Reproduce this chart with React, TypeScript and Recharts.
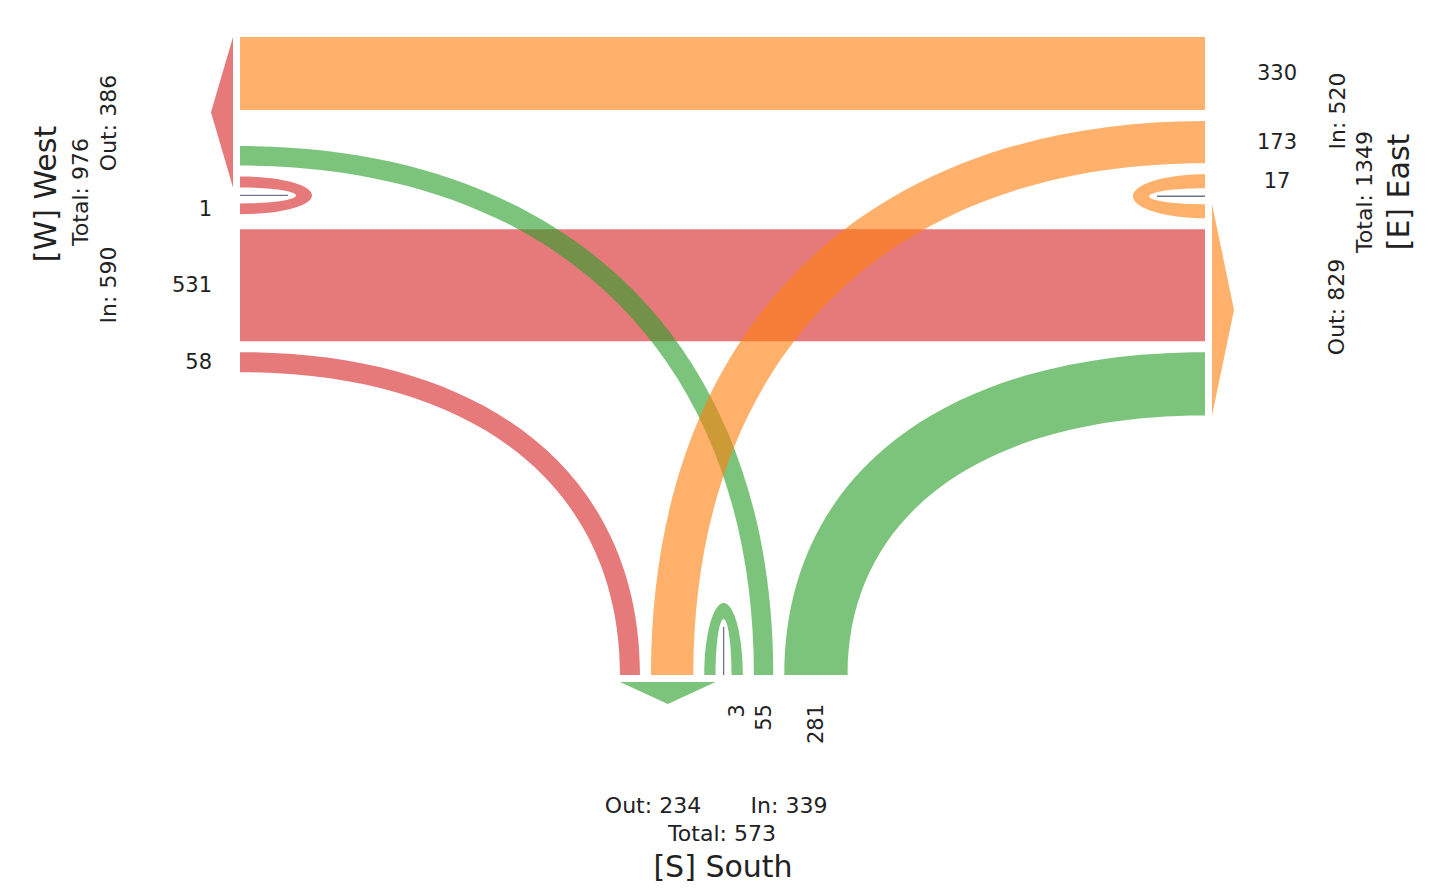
import React from "react";
import { ScatterChart, XAxis, YAxis, Scatter } from "recharts";

const WIDTH = 1431;
const HEIGHT = 888;

// nodes
const nodeCodes = ["W", "E", "S"];
const nodeNames = ["West", "East", "South"];

// flows, coloured by destination node
const flowFrom = ["W", "W", "W", "E", "E", "E", "S", "S", "S"];
const flowTo = ["E", "S", "W", "W", "S", "E", "W", "E", "S"];
const flowValues = [330, 55, 1, 531, 281, 17, 58, 173, 3];

const COLORS: Record<string, string> = { W: "#d62728", E: "#ff7f0e", S: "#2ca02c" };
const ALPHA = 0.62;
const FONT = "'DejaVu Sans', sans-serif";
const TEXT = "#222";

type Pt = [number, number];

// node edges: where flows attach, and the direction pointing into the diagram
const frames: Record<string, { pos: (s: number) => Pt; n: Pt }> = {
  W: { pos: (s) => [240, s], n: [1, 0] },
  E: { pos: (s) => [1205, s], n: [-1, 0] },
  S: { pos: (s) => [s, 675], n: [0, -1] },
};

const GAP = 11;
const LOOP_GAP = 16;
const LOOP_DEPTH = 72;
const K_ELL = 0.5523; // loops
const K_FLOW = 0.62; // curved flows, a bit boxier than an ellipse
const thick = (v: number, loop = false) => 8.7 + 0.1945 * v + (loop ? 2 : 0);

const idx = (a: string, b: string) => flowFrom.findIndex((f, i) => f === a && flowTo[i] === b);
const key = (a: string, b: string, side: "src" | "dst") => `${idx(a, b)}:${side}`;

// ---- layout ----
const segs: Record<string, [number, number]> = {};
function stack(start: number, seq: (string | number)[], dir = 1) {
  let p = start;
  for (const it of seq) {
    if (typeof it === "number") {
      p += dir * it;
      continue;
    }
    const i = +it.split(":")[0];
    const q = p + dir * thick(flowValues[i], flowFrom[i] === flowTo[i]);
    segs[it] = [Math.min(p, q), Math.max(p, q)];
    p = q;
  }
  return p;
}

stack(37, [
  key("W", "E", "dst"), GAP,
  key("S", "E", "dst"), GAP,
  key("E", "E", "dst"), LOOP_GAP,
  key("E", "E", "src"), GAP,
  key("E", "W", "src"), GAP,
  key("E", "S", "src"),
]);
segs[key("W", "E", "src")] = segs[key("W", "E", "dst")];
segs[key("E", "W", "dst")] = segs[key("E", "W", "src")];
stack(segs[key("E", "W", "dst")][1], [GAP, key("S", "W", "dst")]);
stack(segs[key("E", "W", "dst")][0], [
  GAP + 4, key("W", "W", "dst"),
  LOOP_GAP, key("W", "W", "src"),
  GAP, key("W", "S", "src"),
], -1);
stack(620, [
  key("S", "W", "src"), GAP,
  key("S", "E", "src"), GAP,
  key("S", "S", "src"), LOOP_GAP,
  key("S", "S", "dst"), GAP,
  key("W", "S", "dst"), GAP,
  key("E", "S", "dst"),
]);

// ---- geometry helpers ----
const add = (a: Pt, b: Pt, s = 1): Pt => [a[0] + b[0] * s, a[1] + b[1] * s];
const sub = (a: Pt, b: Pt): Pt => [a[0] - b[0], a[1] - b[1]];
const dot = (a: Pt, b: Pt) => a[0] * b[0] + a[1] * b[1];
const f = (p: Pt) => `${p[0].toFixed(1)},${p[1].toFixed(1)}`;

function endPoints(node: string, k: string, travel: Pt): [Pt, Pt] {
  const fr = frames[node];
  const [a, b] = segs[k];
  const pa = fr.pos(a);
  const pb = fr.pos(b);
  const left: Pt = [travel[1], -travel[0]];
  return dot(pa, left) >= dot(pb, left) ? [pa, pb] : [pb, pa];
}

function ribbonPath(i: number) {
  const s = flowFrom[i];
  const t = flowTo[i];
  const ns = frames[s].n;
  const nt = frames[t].n;
  const [L0, R0] = endPoints(s, `${i}:src`, ns);
  const [L1, R1] = endPoints(t, `${i}:dst`, [-nt[0], -nt[1]]);
  const ctrl = (p0: Pt, p1: Pt): [Pt, Pt] => [
    add(p0, ns, K_FLOW * Math.abs(dot(sub(p1, p0), ns))),
    add(p1, nt, K_FLOW * Math.abs(dot(sub(p0, p1), nt))),
  ];
  const [a1, a2] = ctrl(L0, L1);
  const [b2, b1] = ctrl(R0, R1);
  return `M${f(L0)} C${f(a1)} ${f(a2)} ${f(L1)} L${f(R1)} C${f(b1)} ${f(b2)} ${f(R0)} Z`;
}

function halfEllipse(A: Pt, B: Pt, n: Pt, D: number) {
  const C: Pt = [(A[0] + B[0]) / 2, (A[1] + B[1]) / 2];
  const T = add(C, n, D);
  return `C${f(add(A, n, D * K_ELL))} ${f(add(T, sub(A, C), K_ELL))} ${f(T)} C${f(add(T, sub(B, C), K_ELL))} ${f(add(B, n, D * K_ELL))} ${f(B)}`;
}

function loopGeom(i: number) {
  const fr = frames[flowFrom[i]];
  const s1 = segs[`${i}:src`];
  const s2 = segs[`${i}:dst`];
  const lo = Math.min(s1[0], s2[0]);
  const hi = Math.max(s1[1], s2[1]);
  const inLo = Math.min(s1[1], s2[1]);
  const inHi = Math.max(s1[0], s2[0]);
  const A = fr.pos(lo);
  const B = fr.pos(hi);
  const Ai = fr.pos(inLo);
  const Bi = fr.pos(inHi);
  const d = `M${f(A)} ${halfEllipse(A, B, fr.n, LOOP_DEPTH)} L${f(Bi)} ${halfEllipse(Bi, Ai, fr.n, LOOP_DEPTH - 16)} Z`;
  const c = fr.pos((inLo + inHi) / 2);
  return { d, line: [c, add(c, fr.n, LOOP_DEPTH - 24)] as [Pt, Pt] };
}

function arrowPath(node: string) {
  const fr = frames[node];
  const ranges = flowFrom.map((s, i) => (s === node ? segs[`${i}:src`] : null)).filter(Boolean) as [number, number][];
  const lo = Math.min(...ranges.map((r) => r[0]));
  const hi = Math.max(...ranges.map((r) => r[1]));
  const back: Pt = [-fr.n[0], -fr.n[1]];
  const p1 = add(fr.pos(lo), back, 7);
  const p2 = add(fr.pos(hi), back, 7);
  const tip = add(fr.pos((lo + hi) / 2), back, 29);
  return `M${f(p1)} L${f(tip)} L${f(p2)} Z`;
}

// ---- series rows (anchored at data coordinates) ----
const flowRows = flowValues
  .map((v, i) => {
    const [x, y] = frames[flowFrom[i]].pos(segs[`${i}:src`][0]);
    return { x, y, i, straight: frames[flowFrom[i]].n[1] === frames[flowTo[i]].n[1] };
  })
  .filter((r) => flowFrom[r.i] !== flowTo[r.i]);
const straightRows = flowRows.filter((r) => r.straight);
const curveRows = flowRows.filter((r) => !r.straight);
const loopRows = flowValues
  .map((v, i) => ({ i }))
  .filter((r) => flowFrom[r.i] === flowTo[r.i])
  .map((r) => {
    const [x, y] = frames[flowFrom[r.i]].pos(segs[`${r.i}:src`][0]);
    return { x, y, i: r.i };
  });
const arrowRows = nodeCodes.map((c) => {
  const [x, y] = frames[c].pos(0);
  return { x, y, node: c };
});

const sumIn = (c: string) => flowValues.reduce((s, v, i) => s + (flowTo[i] === c ? v : 0), 0);
const sumOut = (c: string) => flowValues.reduce((s, v, i) => s + (flowFrom[i] === c ? v : 0), 0);

type LabelRow = { x: number; y: number; text: string; size: number; rot: boolean; anchor: string };
const valueLabels: LabelRow[] = flowValues.map((v, i) => {
  const node = flowTo[i];
  const [a, b] = segs[`${i}:dst`];
  const mid = (a + b) / 2;
  if (node === "W") return { x: 212, y: mid, text: String(v), size: 21, rot: false, anchor: "end" };
  if (node === "E") return { x: 1277, y: mid, text: String(v), size: 21, rot: false, anchor: "middle" };
  return { x: mid, y: 704, text: String(v), size: 21, rot: true, anchor: "end" };
});
const W_ = nodeCodes.indexOf("W");
const E_ = nodeCodes.indexOf("E");
const S_ = nodeCodes.indexOf("S");
const nodeLabels: LabelRow[] = [
  { x: 45, y: 194, text: `[W] ${nodeNames[W_]}`, size: 30, rot: true, anchor: "middle" },
  { x: 80, y: 192, text: `Total: ${sumIn("W") + sumOut("W")}`, size: 22, rot: true, anchor: "middle" },
  { x: 108, y: 123, text: `Out: ${sumOut("W")}`, size: 22, rot: true, anchor: "middle" },
  { x: 108, y: 285, text: `In: ${sumIn("W")}`, size: 22, rot: true, anchor: "middle" },
  { x: 1337, y: 111, text: `In: ${sumIn("E")}`, size: 22, rot: true, anchor: "middle" },
  { x: 1336, y: 307, text: `Out: ${sumOut("E")}`, size: 22, rot: true, anchor: "middle" },
  { x: 1364, y: 192, text: `Total: ${sumIn("E") + sumOut("E")}`, size: 22, rot: true, anchor: "middle" },
  { x: 1398, y: 192, text: `[E] ${nodeNames[E_]}`, size: 30, rot: true, anchor: "middle" },
  { x: 653, y: 805, text: `Out: ${sumOut("S")}`, size: 22, rot: false, anchor: "middle" },
  { x: 789, y: 805, text: `In: ${sumIn("S")}`, size: 22, rot: false, anchor: "middle" },
  { x: 722, y: 833, text: `Total: ${sumIn("S") + sumOut("S")}`, size: 22, rot: false, anchor: "middle" },
  { x: 723, y: 866, text: `[S] ${nodeNames[S_]}`, size: 30, rot: false, anchor: "middle" },
];
const labelRows = [...valueLabels, ...nodeLabels];

// ---- shapes ----
const shift = (p: any) => `translate(${p.cx - p.payload.x},${p.cy - p.payload.y})`;

const FlowShape = (p: any) => (
  <path
    d={ribbonPath(p.payload.i)}
    transform={shift(p)}
    fill={COLORS[flowTo[p.payload.i]]}
    fillOpacity={ALPHA}
    stroke="none"
  />
);

const LoopShape = (p: any) => {
  const g = loopGeom(p.payload.i);
  return (
    <g transform={shift(p)}>
      <path d={g.d} fill={COLORS[flowTo[p.payload.i]]} fillOpacity={ALPHA} stroke="none" />
      <line
        x1={g.line[0][0]}
        y1={g.line[0][1]}
        x2={g.line[1][0]}
        y2={g.line[1][1]}
        stroke="#4a5470"
        strokeWidth={1.3}
        strokeOpacity={0.8}
      />
    </g>
  );
};

const ArrowShape = (p: any) => (
  <path d={arrowPath(p.payload.node)} transform={shift(p)} fill={COLORS[p.payload.node]} fillOpacity={ALPHA} />
);

const LabelShape = (p: any) => {
  const r: LabelRow = p.payload;
  return (
    <text
      x={p.cx}
      y={p.cy}
      transform={r.rot ? `rotate(-90, ${p.cx}, ${p.cy})` : undefined}
      textAnchor={r.anchor as any}
      dominantBaseline="central"
      fontFamily={FONT}
      fontSize={r.size}
      fill={TEXT}
    >
      {r.text}
    </text>
  );
};

export default function App() {
  return (
    <div style={{ position: "absolute", left: 0, top: 0, background: "#fff" }}>
      <ScatterChart width={WIDTH} height={HEIGHT} margin={{ top: 0, right: 0, bottom: 0, left: 0 }}>
        <XAxis type="number" dataKey="x" domain={[0, WIDTH]} allowDataOverflow hide />
        <YAxis type="number" dataKey="y" domain={[0, HEIGHT]} allowDataOverflow reversed hide />
        <Scatter data={arrowRows} shape={ArrowShape} isAnimationActive={false} />
        <Scatter data={straightRows} shape={FlowShape} isAnimationActive={false} />
        <Scatter data={curveRows} shape={FlowShape} isAnimationActive={false} />
        <Scatter data={loopRows} shape={LoopShape} isAnimationActive={false} />
        <Scatter data={labelRows} shape={LabelShape} isAnimationActive={false} />
      </ScatterChart>
    </div>
  );
}
